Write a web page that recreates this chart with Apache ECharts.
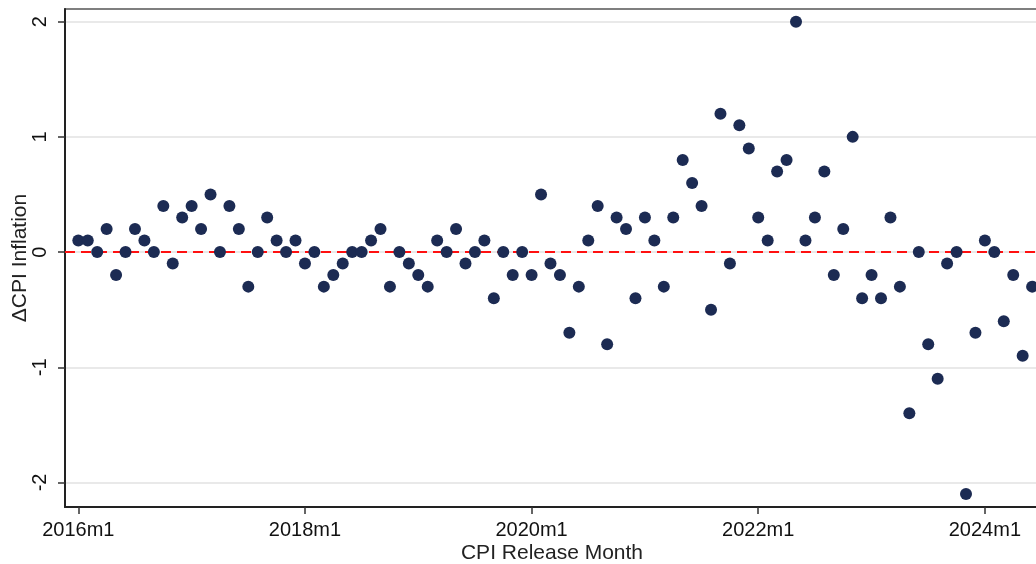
<!DOCTYPE html>
<html>
<head>
<meta charset="utf-8">
<script src="https://cdn.jsdelivr.net/npm/echarts@6/dist/echarts.min.js"></script>
<style>
  html, body { margin: 0; padding: 0; background: #fff; }
  #chart { width: 1036px; height: 564px; }
</style>
</head>
<body>
<div id="chart"></div>
<script>
// 数据：每月 CPI 变化，2016m1 起
var startYear = 2016;
var dCpi = [
  // 2016
  0.1, 0.1, 0, 0.2, -0.2, 0, 0.2, 0.1, 0, 0.4, -0.1, 0.3,
  // 2017
  0.4, 0.2, 0.5, 0, 0.4, 0.2, -0.3, 0, 0.3, 0.1, 0, 0.1,
  // 2018
  -0.1, 0, -0.3, -0.2, -0.1, 0, 0, 0.1, 0.2, -0.3, 0, -0.1,
  // 2019
  -0.2, -0.3, 0.1, 0, 0.2, -0.1, 0, 0.1, -0.4, 0, -0.2, 0,
  // 2020
  -0.2, 0.5, -0.1, -0.2, -0.7, -0.3, 0.1, 0.4, -0.8, 0.3, 0.2, -0.4,
  // 2021
  0.3, 0.1, -0.3, 0.3, 0.8, 0.6, 0.4, -0.5, 1.2, -0.1, 1.1, 0.9,
  // 2022
  0.3, 0.1, 0.7, 0.8, 2.0, 0.1, 0.3, 0.7, -0.2, 0.2, 1.0, -0.4,
  // 2023
  -0.2, -0.4, 0.3, -0.3, -1.4, 0, -0.8, -1.1, -0.1, 0, -2.1, -0.7,
  // 2024
  0.1, 0, -0.6, -0.2, -0.9, -0.3
];
var xTicks = [0, 24, 48, 72, 96];   // 月份序号
var yTicks = [-2, -1, 0, 1, 2];

var points = dCpi.map(function (v, i) { return [i, v]; });

var font = 'Liberation Sans, Arial, sans-serif';

var myChart = echarts.init(document.getElementById('chart'));

var option = {
  backgroundColor: '#fff',
  animation: false,
  grid: {
    left: 65, right: -3, top: 9, bottom: 57,
    outerBoundsMode: 'none',
    containLabel: false,
    show: true,
    borderColor: '#555',
    borderWidth: 1.5
  },
  xAxis: {
    type: 'value',
    min: -1.41,
    max: 101.73,
    name: 'CPI Release Month',
    nameLocation: 'middle',
    nameGap: 36,
    nameMoveOverlap: false,
    nameTextStyle: { fontFamily: font, fontSize: 21, color: '#222' },
    axisLine: { show: true, onZero: false, lineStyle: { color: '#222', width: 2 } },
    axisTick: { show: true, length: 7, customValues: xTicks, lineStyle: { color: '#333', width: 1.5 } },
    axisLabel: {
      customValues: xTicks,
      margin: 13,
      fontFamily: font, fontSize: 20, color: '#111',
      formatter: function (v) { return (startYear + Math.round(v) / 12) + 'm1'; }
    },
    splitLine: { show: false }
  },
  yAxis: {
    type: 'value',
    min: -2.213,
    max: 2.11,
    name: 'ΔCPI Inflation',
    nameLocation: 'middle',
    nameGap: 34,
    nameMoveOverlap: false,
    nameTextStyle: { fontFamily: font, fontSize: 21, color: '#222' },
    axisLine: { show: true, onZero: false, lineStyle: { color: '#222', width: 2 } },
    axisTick: { show: true, length: 7, customValues: yTicks, lineStyle: { color: '#333', width: 1.5 } },
    axisLabel: {
      customValues: yTicks,
      rotate: 90,
      margin: 15,
      fontFamily: font, fontSize: 20, color: '#111'
    },
    splitLine: { show: false }
  },
  series: [
    {
      // 网格线
      type: 'scatter',
      data: [],
      silent: true,
      markLine: {
        z: 0,
        silent: true,
        symbol: 'none',
        label: { show: false },
        lineStyle: { color: '#e2e2e2', width: 1.5, type: 'solid' },
        data: yTicks.map(function (t) { return { yAxis: t }; })
      }
    },
    {
      // 零线
      type: 'scatter',
      data: [],
      silent: true,
      markLine: {
        z: 1,
        silent: true,
        symbol: 'none',
        label: { show: false },
        lineStyle: { color: '#ff1010', width: 2, type: [10, 6] },
        data: [{ yAxis: 0 }]
      }
    },
    {
      name: 'ΔCPI',
      type: 'scatter',
      z: 5,
      symbol: 'circle',
      symbolSize: 12,
      itemStyle: { color: '#1c2b53', opacity: 1 },
      data: points
    }
  ]
};

myChart.setOption(option);
</script>
</body>
</html>
